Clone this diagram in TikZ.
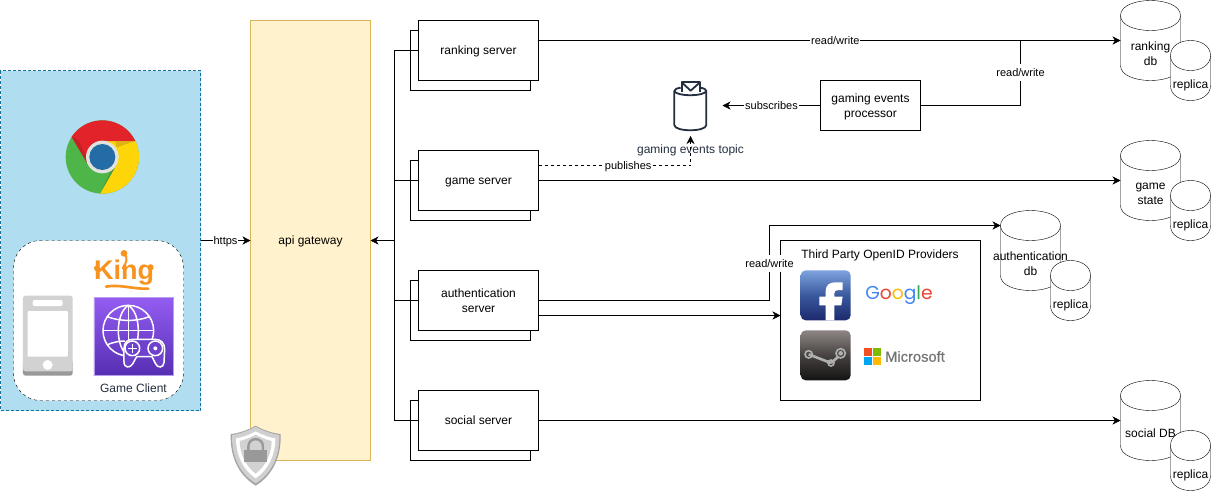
\documentclass[tikz,border=0pt]{standalone}
\usepackage{fontspec}
\setmainfont{Liberation Sans}
\newfontfamily\msfont[FakeBold=0.4]{Liberation Sans}
\newfontfamily\googlefont{Poppins}
\usetikzlibrary{arrows.meta,calc}
\definecolor{awsink}{HTML}{232F3E}
\newcommand{\linerule}{\rule[-3.5pt]{0pt}{15pt}}
\tikzset{
  x=1pt,y=-1pt,
  line width=1pt,
  logotext/.style={inner sep=0pt,outer sep=0pt},
  base/.style={inner sep=0pt,outer sep=0pt,align=center,font=\fontsize{12}{15}\selectfont,execute at begin node=\linerule,execute at end node=\linerule},
  boxnode/.style={base,draw=black,fill=white,minimum width=120pt,minimum height=60pt},
  backbox/.style={base,draw=black,fill=white,minimum width=120pt,minimum height=60pt},
  clientbox/.style={base,draw={rgb,255:red,16;green,115;blue,158},fill={rgb,255:red,177;green,221;blue,240},dash pattern=on 3pt off 2pt,minimum width=200pt,minimum height=340pt},
  devicebox/.style={base,draw=black,fill=white,dash pattern=on 3pt off 3pt,rounded corners=27pt,minimum width=170pt,minimum height=160pt},
  gatewaybox/.style={base,draw={rgb,255:red,214;green,182;blue,86},fill={rgb,255:red,255;green,242;blue,204},minimum width=120pt,minimum height=440pt},
  dbshape/.style={draw=black,fill=white},
  lbl/.style={base,font=\fontsize{11}{15}\selectfont,fill=white,inner sep=1pt},
  awstext/.style={base,text=awsink},
  conn/.style={draw=black,-{Stealth[length=8pt,width=8pt,inset=2.5pt]}},
  plain/.style={draw=black},
  pubconn/.style={conn,dash pattern=on 3pt off 3pt},
  zoomA/.style={shift={(0,60)},scale=1/3},
  zoomB/.style={shift={(770,200)},scale=1/3},
  zoomC/.style={shift={(530,70)},scale=1/3},
}
\newcommand{\dbcyl}[7]{%
  \begin{scope}[shift={(#2,#3)}]
    \pgfmathsetmacro{\cylh}{#5-15}
    \pgfmathsetmacro{\cylc}{#5+5}
    \path[dbshape] (0,15) .. controls (0,-5) and (#4,-5) .. (#4,15) -- (#4,\cylh) .. controls (#4,\cylc) and (0,\cylc) .. (0,\cylh) -- cycle;
    \path[dbshape,fill=none] (0,15) .. controls (0,35) and (#4,35) .. (#4,15);
    \pgfmathsetmacro{\cylm}{#4/2}
    \pgfmathsetmacro{\cyln}{#5/2}
    \node[base,minimum width=#4 pt,minimum height=#5 pt] (#1) at (\cylm,\cyln) {};
    \node[base] (#1text) at (\cylm,#7) {#6};
  \end{scope}}
\begin{document}
\begin{tikzpicture}
\useasboundingbox (0,0) rectangle (1211,491);
\fill[white] (0,0) rectangle (1211,491);

% client area
\node[clientbox] (client) at (100.5,240.5) {};
\node[devicebox] (device) at (98.5,320.5) {};

% chrome
\begin{scope}[zoomA]
  \begin{scope}
    \clip (307,291) circle (110);
    \fill[fill={rgb,255:red,78;green,182;blue,72}] (190,170) rectangle (430,410);
    \fill[fill={rgb,255:red,253;green,213;blue,8}] (310,243) -- (470,243) -- (470,430) -- (283,430) -- (352,310) -- cycle;
    \fill[fill={rgb,255:red,226;green,35;blue,42}] (262,310) -- (190,190) -- (190,170) -- (470,170) -- (470,243) -- (310,243) -- cycle;
    \fill[fill={rgb,255:red,196;green,32;blue,38}] (216,230) -- (262,310) -- (275,320) -- (235,240) -- cycle;
    \fill[fill={rgb,255:red,222;green,178;blue,20}] (345,243) -- (405,243) -- (350,262) -- cycle;
    \fill[fill={rgb,255:red,62;green,150;blue,62}] (300,401) -- (352,310) -- (330,340) -- cycle;
  \end{scope}
  \fill[fill={rgb,255:red,226;green,226;blue,222}] (307,291) circle (49);
  \fill[fill={rgb,255:red,36;green,108;blue,165}] (307,291) circle (39);
  % phone
  \fill[fill={rgb,255:red,153;green,153;blue,153},rounded corners=2.5pt] (69,900) rectangle (218,947);
  \fill[fill={rgb,255:red,210;green,210;blue,210},rounded corners=2.5pt] (69,707) rectangle (218,934);
  \fill[white,rounded corners=2pt] (98,720) rectangle (188,738);
  \fill[white,rounded corners=1pt] (83,753) rectangle (204,890);
  \fill[white] (143,915) circle (15);
  % game tech icon
  \shade[bottom color={rgb,255:red,86;green,46;blue,178},top color={rgb,255:red,148;green,93;blue,242}] (282,712) rectangle (519,947);
  \draw[draw={rgb,255:red,184;green,156;blue,240},line width=0.7pt] (282,712) rectangle (519,947);
  \begin{scope}[white,line width=1.5pt]
    \draw (385,812) circle (76);
    \draw (385,736) .. controls (345,760) and (345,864) .. (385,888);
    \draw (385,736) .. controls (425,760) and (425,864) .. (385,888);
    \draw (385,736) -- (385,888);
    \draw (322,770) .. controls (360,785) and (410,785) .. (448,770);
    \draw (309,812) -- (461,812);
    \draw (322,854) .. controls (345,845) and (360,843) .. (375,843);
    \fill[fill={rgb,255:red,110;green,66;blue,205}] (372,865) .. controls (372,845) and (385,838) .. (400,838) -- (465,838) .. controls (482,838) and (494,848) .. (494,868) -- (492,908) .. controls (490,925) and (472,925) .. (466,910) -- (456,890) -- (410,890) -- (398,912) .. controls (390,925) and (372,925) .. (372,905) -- cycle;
    \draw (372,865) .. controls (372,845) and (385,838) .. (400,838) -- (465,838) .. controls (482,838) and (494,848) .. (494,868) -- (492,908) .. controls (490,925) and (472,925) .. (466,910) -- (456,890) -- (410,890) -- (398,912) .. controls (390,925) and (372,925) .. (372,905) -- cycle;
    \draw (397,865) circle (22);
    \draw (466,865) circle (22);
    \draw (397,852) -- (397,878) (384,865) -- (410,865);
    \fill (466,865) circle (6);
  \end{scope}
  % king swoosh and flourish
  \draw[draw={rgb,255:red,247;green,147;blue,30},line width=2.6pt,line cap=round] (318,680) .. controls (360,672) and (400,688) .. (445,686);
  \draw[draw={rgb,255:red,247;green,147;blue,30},line width=2pt,line cap=round] (372,580) .. controls (385,590) and (380,610) .. (368,625);
  \fill[fill={rgb,255:red,247;green,147;blue,30}] (372,580) circle (10);
  \fill[fill={rgb,255:red,247;green,147;blue,30}] (291,625) circle (9);
  \fill[fill={rgb,255:red,247;green,147;blue,30}] (452,622) circle (9);
\end{scope}
\node[logotext,font=\fontsize{27}{27}\bfseries\selectfont,text={rgb,255:red,247;green,147;blue,30}] (kinglogo) at (124,273) {King};
\node[awstext] (clientlabel) at (133.5,388.5) {Game Client};

% gateway
\node[gatewaybox] (gateway) at (310.5,240.5) {api gateway};

% shield
\begin{scope}[zoomA]
  \fill[fill={rgb,255:red,165;green,165;blue,165}] (767,1097) .. controls (745,1110) and (715,1120) .. (692,1122) .. controls (690,1190) and (715,1245) .. (767,1277) .. controls (819,1245) and (844,1190) .. (842,1122) .. controls (819,1120) and (789,1110) .. (767,1097) -- cycle;
  \fill[fill={rgb,255:red,208;green,208;blue,208}] (767,1100) .. controls (745,1113) and (717,1122) .. (696,1125) .. controls (695,1188) and (718,1240) .. (767,1270) .. controls (816,1240) and (839,1188) .. (838,1125) .. controls (817,1122) and (789,1113) .. (767,1100) -- cycle;
  \fill[white] (767,1114) .. controls (750,1124) and (725,1133) .. (708,1135) .. controls (708,1185) and (728,1228) .. (767,1255) .. controls (806,1228) and (826,1185) .. (826,1135) .. controls (809,1133) and (784,1124) .. (767,1114) -- cycle;
  \fill[fill={rgb,255:red,210;green,210;blue,210}] (767,1124) .. controls (752,1133) and (733,1140) .. (719,1143) .. controls (720,1182) and (736,1217) .. (767,1241) .. controls (798,1217) and (814,1182) .. (815,1143) .. controls (801,1140) and (782,1133) .. (767,1124) -- cycle;
  \fill[fill={rgb,255:red,153;green,153;blue,153}] (733,1170) rectangle (801,1205);
  \draw[draw={rgb,255:red,153;green,153;blue,153},line width=2.4pt] (745,1170) -- (745,1160) .. controls (745,1130) and (789,1130) .. (789,1160) -- (789,1170);
\end{scope}

% servers
\node[backbox] (rankingback) at (470.5,60.5) {};
\node[boxnode] (ranking) at (478.5,50.5) {ranking server};
\node[backbox] (gameback) at (470.5,190.5) {};
\node[boxnode] (game) at (478.5,180.5) {game server};
\node[backbox] (authback) at (470.5,310.5) {};
\node[boxnode] (auth) at (478.5,300.5) {};
\node[base] (authtext) at (478.5,302.5) {authentication\\server};
\node[backbox] (socialback) at (470.5,430.5) {};
\node[boxnode] (social) at (478.5,420.5) {social server};

% processor
\node[boxnode,minimum width=100pt,minimum height=50pt] (processor) at (870.5,105.5) {};
\node[base] (processortext) at (870.5,107) {gaming events\\processor};

% topic icon
\begin{scope}[zoomC,draw=awsink,line width=1.8pt,line join=round]
  \draw (455,65) -- (455,37) -- (510,37) -- (510,65);
  \draw (455,37) -- (482,62) -- (510,37);
  \draw (452,53) .. controls (440,55) and (433,58) .. (433,63) -- (433,165) .. controls (433,186) and (529,186) .. (529,165) -- (529,63) .. controls (529,58) and (522,55) .. (511,53);
  \draw (433,63) .. controls (440,80) and (522,80) .. (529,63);
\end{scope}
\node[base,minimum width=34pt,minimum height=50pt] (topic) at (690.5,106) {};
\node[awstext] (topiclabel) at (690.5,149) {gaming events topic};

% third party box
\node[boxnode,minimum width=200pt,minimum height=160pt] (oidc) at (880.5,320.5) {};
\node[base] (oidctitle) at (880,254) {Third Party OpenID Providers};
\begin{scope}[zoomB]
  \shade[rounded corners=5pt,top color={rgb,255:red,125;green,163;blue,222},bottom color={rgb,255:red,28;green,42;blue,108},middle color={rgb,255:red,58;green,88;blue,158}] (92,211) rectangle (242,361);
  \fill[white] (167,361) -- (167,316) -- (148,316) -- (148,290) -- (167,290) -- (167,272) .. controls (167,255) and (180,247) .. (195,247) -- (218,247) -- (218,270) -- (205,270) .. controls (197,270) and (193,274) .. (193,280) -- (193,290) -- (218,290) -- (214,316) -- (193,316) -- (193,361) -- cycle;
  \shade[rounded corners=5pt,top color={rgb,255:red,142;green,134;blue,132},bottom color={rgb,255:red,20;green,18;blue,18},middle color={rgb,255:red,70;green,66;blue,64}] (92,391) rectangle (242,541);
  \begin{scope}[draw={rgb,255:red,176;green,176;blue,176},line width=1.6pt]
    \draw (212,460) circle (14);
    \draw (116,463) circle (11);
    \draw (183,489) circle (9);
    \draw[line width=2.6pt] (116,463) -- (183,489);
    \draw[line width=2.6pt] (183,489) -- (204,471);
    \fill[fill={rgb,255:red,176;green,176;blue,176}] (212,460) circle (7);
  \end{scope}
  \fill[fill={rgb,255:red,242;green,80;blue,34}] (283,444) rectangle (307,468);
  \fill[fill={rgb,255:red,127;green,186;blue,0}] (310,444) rectangle (334,468);
  \fill[fill={rgb,255:red,0;green,164;blue,239}] (283,471) rectangle (307,495);
  \fill[fill={rgb,255:red,255;green,185;blue,0}] (310,471) rectangle (334,495);
\end{scope}
\node[logotext,font=\googlefont\fontsize{18.7}{20}\selectfont] (googlelogo) at (899,295.5) {\textcolor[HTML]{4285F4}{G}\textcolor[HTML]{EA4335}{o}\textcolor[HTML]{FBBC05}{o}\textcolor[HTML]{4285F4}{g}\textcolor[HTML]{34A853}{l}\textcolor[HTML]{EA4335}{e}};
\node[logotext,font=\msfont\fontsize{14.7}{16}\selectfont,text={rgb,255:red,115;green,115;blue,115}] (mslogo) at (915,356.5) {Microsoft};

% databases
\dbcyl{rankingdb}{1120.5}{0.5}{60}{80}{ranking\\db}{55}
\dbcyl{rankingreplica}{1170.5}{40.5}{40}{60}{replica}{44}
\dbcyl{statedb}{1120.5}{140.5}{60}{80}{game\\state}{55}
\dbcyl{statereplica}{1170.5}{180.5}{40}{60}{replica}{44}
\dbcyl{authdb}{1000.5}{210.5}{60}{80}{authentication\\db}{55}
\dbcyl{authreplica}{1050.5}{260.5}{40}{60}{replica}{44}
\dbcyl{socialdb}{1120.5}{380.5}{60}{80}{social DB}{53}
\dbcyl{socialreplica}{1170.5}{430.5}{40}{60}{replica}{44}

% helper coordinates
\coordinate (trunk) at (394.5,240.5);
\coordinate (join) at (1020.5,40.5);
\coordinate (authbend) at (769.5,225.5);

% connectors
\draw[conn] (client.east) -- node[lbl] (httpslabel) {https} (gateway.west);
\draw[plain] (ranking.west) -| (trunk);
\draw[plain] (game.west) -| (trunk);
\draw[plain] (auth.west) -| (trunk);
\draw[plain] (social.west) -| (trunk);
\draw[conn] (trunk) -- (gateway.east);

\draw[conn] ($(ranking.north east)+(0,20)$) -- node[lbl,pos=0.51] (rw1) {read/write} ($(rankingdb.north west)+(0,40)$);
\draw[plain] (processor.east) -| node[lbl,pos=0.754] (rw2) {read/write} (join);
\draw[conn] (processor.west) -- node[lbl] (subs) {subscribes} ($(topic.east |- processor.west)+(15,0)$);
\draw[conn] (game.east) -- (statedb.west);
\draw[pubconn] ($(game.north east)+(0,15)$) -- node[lbl,solid,pos=0.59] (pubs) {publishes} ($(topic.south |- game.north)+(0,15)$) -- ($(topic.south)+(0,5)$);
\draw[conn] (auth.east) -- (auth.east -| authbend) -- node[lbl,pos=0.5] (rw3) {read/write} (authbend) -- ($(authdb.north west)+(0,15)$);
\draw[conn] ($(auth.north east)+(0,45)$) -- ($(oidc.west |- auth.north)+(0,45)$);
\draw[conn] (social.east) -- (socialdb.west);
\end{tikzpicture}
\end{document}
